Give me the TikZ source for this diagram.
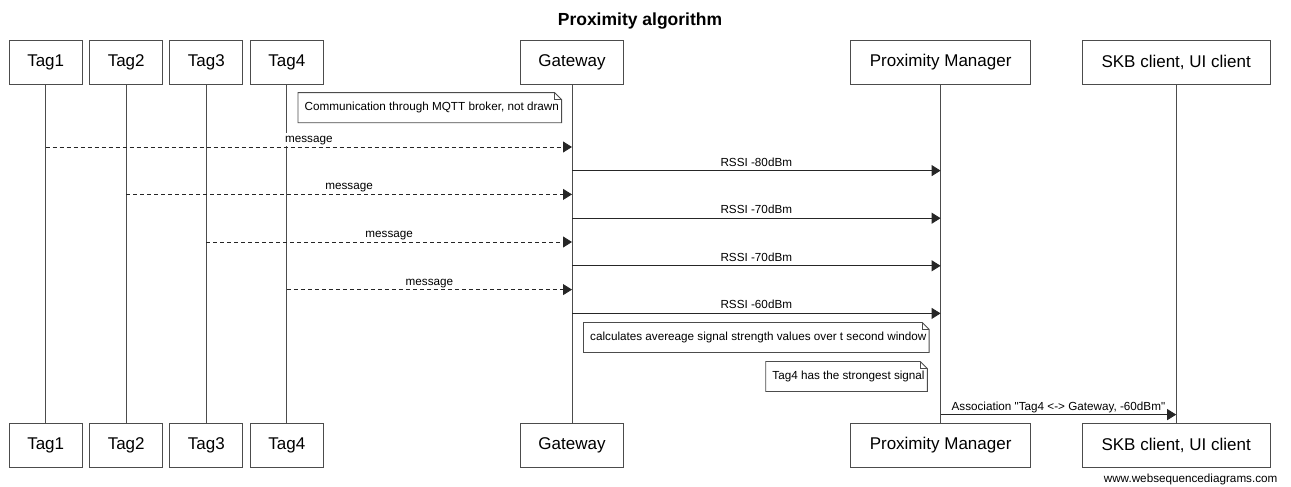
\documentclass[tikz,border=0pt]{standalone}
\usepackage{fontspec}
\setmainfont{Liberation Sans}[Ligatures=TeXOff]
\usetikzlibrary{arrows.meta}

\begin{document}
\begin{tikzpicture}[x=1pt, y=-1pt,
  actor/.style={draw=black!70, line width=0.9pt, fill=white, minimum height=43.5pt,
                inner sep=0pt, font=\fontsize{17}{20}\selectfont},
  life/.style={draw=black!70, line width=0.9pt},
  notetext/.style={anchor=west, inner xsep=0pt, inner ysep=0pt, minimum height=29.6pt,
                   font=\fontsize{11.7}{14}\selectfont},
  noteline/.style={draw=black!70, line width=0.9pt},
  tip/.style={-{Triangle[length=9pt,width=11pt]}},
  msg/.style={draw=black!85, line width=0.9pt, dash pattern=on 4pt off 3pt, tip},
  sig/.style={draw=black!85, line width=0.9pt, tip},
  lbl/.style={font=\fontsize{11.7}{14}\selectfont, fill=white, inner sep=1pt,
              text height=8.5pt, text depth=2.5pt, anchor=base, yshift=4.5pt},
]
\useasboundingbox (0,0) rectangle (1291,487);

% title
\node[font=\bfseries\fontsize{17.5}{20}\selectfont] (title) at (640,20.7) {Proximity algorithm};

% participants, top row
\node[actor, minimum width=73pt]    (t1)  at (45.7,62.5)   {Tag1};
\node[actor, minimum width=73pt]    (t2)  at (126.2,62.5)  {Tag2};
\node[actor, minimum width=73pt]    (t3)  at (206.4,62.5)  {Tag3};
\node[actor, minimum width=73pt]    (t4)  at (286.8,62.5)  {Tag4};
\node[actor, minimum width=102.6pt] (gw)  at (572,62.5)    {Gateway};
\node[actor, minimum width=180pt]   (pm)  at (940.6,62.5)  {Proximity Manager};
\node[actor, minimum width=188pt]   (skb) at (1176.2,62.5) {SKB client, UI client};

% participants, bottom row
\node[actor, minimum width=73pt]    (t1-b)  at (45.7,445.5)   {Tag1};
\node[actor, minimum width=73pt]    (t2-b)  at (126.2,445.5)  {Tag2};
\node[actor, minimum width=73pt]    (t3-b)  at (206.4,445.5)  {Tag3};
\node[actor, minimum width=73pt]    (t4-b)  at (286.8,445.5)  {Tag4};
\node[actor, minimum width=102.6pt] (gw-b)  at (572,445.5)    {Gateway};
\node[actor, minimum width=180pt]   (pm-b)  at (940.6,445.5)  {Proximity Manager};
\node[actor, minimum width=188pt]   (skb-b) at (1176.2,445.5) {SKB client, UI client};

% lifelines
\foreach \p in {t1,t2,t3,t4,gw,pm,skb}
  \draw[life] (\p.south) -- (\p-b.north);

% notes
\node[notetext] (n1) at (304.5,107.7) {Communication through MQTT broker, not drawn};
\node[notetext] (n2) at (590,337.5)   {calculates avereage signal strength values over t second window};
\node[notetext] (n3) at (772.2,376.5) {Tag4 has the strongest signal};
\foreach \n in {n1,n2,n3} {
  \draw[noteline] ([xshift=-6.5pt]\n.south west) -- ([xshift=-6.5pt]\n.north west)
    -- ([xshift=-4.5pt]\n.north east) -- ([xshift=2.5pt,yshift=-7pt]\n.north east)
    -- ([xshift=2.5pt]\n.south east) -- cycle;
  \draw[noteline] ([xshift=-4.5pt]\n.north east) |- ([xshift=2.5pt,yshift=-7pt]\n.north east);
}

% message rows
\coordinate (m1) at (0,147);
\coordinate (r1) at (0,170.6);
\coordinate (m2) at (0,194.4);
\coordinate (r2) at (0,218.2);
\coordinate (m3) at (0,242);
\coordinate (r3) at (0,265.8);
\coordinate (m4) at (0,289.6);
\coordinate (r4) at (0,313.4);
\coordinate (a1) at (0,414.6);

\draw[msg] (t1 |- m1) -- (gw |- m1) node[lbl, midway] {message};
\draw[sig] (gw |- r1) -- (pm |- r1) node[lbl, midway] {RSSI -80dBm};
\draw[msg] (t2 |- m2) -- (gw |- m2) node[lbl, midway] {message};
\draw[sig] (gw |- r2) -- (pm |- r2) node[lbl, midway] {RSSI -70dBm};
\draw[msg] (t3 |- m3) -- (gw |- m3) node[lbl, midway] {message};
\draw[sig] (gw |- r3) -- (pm |- r3) node[lbl, midway] {RSSI -70dBm};
\draw[msg] (t4 |- m4) -- (gw |- m4) node[lbl, midway] {message};
\draw[sig] (gw |- r4) -- (pm |- r4) node[lbl, midway] {RSSI -60dBm};
\draw[sig] (pm |- a1) -- (skb |- a1) node[lbl, midway] {Association "Tag4 <-> Gateway, -60dBm"};

% footer
\node[font=\fontsize{11.7}{14}\selectfont, anchor=east] (site) at (1281,479) {www.websequencediagrams.com};
\end{tikzpicture}
\end{document}
